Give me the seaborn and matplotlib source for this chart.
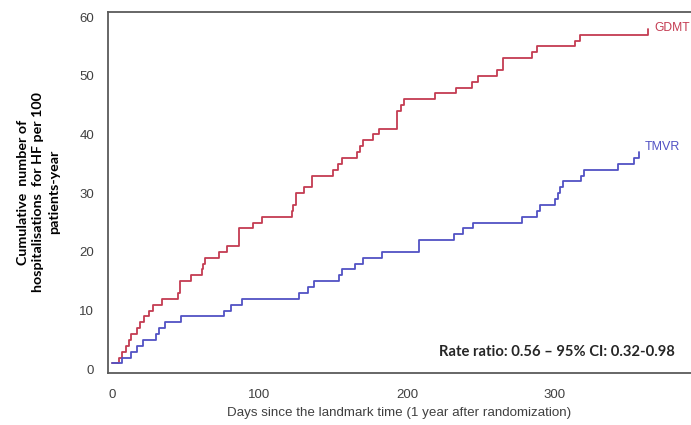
import pandas as pd
import seaborn as sns
import matplotlib
matplotlib.use("Agg")
import matplotlib.pyplot as plt


# Step data (day of event, cumulative value after it)
gdmt_days = [0, 5, 7, 10, 12, 13, 17, 19, 22, 25, 28, 34, 45, 46, 54, 61, 62, 63, 73, 78,
             86, 96, 102, 122, 123, 125, 130, 136, 150, 153, 156, 166, 168, 170, 177, 181,
             193, 196, 198, 219, 233, 244, 248, 261, 265, 285, 288, 314, 317, 363]
gdmt_vals = [1, 2, 3, 4, 5, 6, 7, 8, 9, 10, 11, 12, 13, 15, 16, 17, 18, 19, 20, 21,
             24, 25, 26, 27, 28, 30, 31, 33, 34, 35, 36, 37, 38, 39, 40, 41,
             44, 45, 46, 47, 48, 49, 50, 51, 53, 54, 55, 56, 57, 58]

tmvr_days = [0, 7, 13, 17, 21, 30, 32, 36, 47, 76, 81, 88, 127, 133, 137, 154, 156, 165,
             170, 183, 208, 232, 238, 245, 278, 288, 290, 300, 302, 304, 306, 318, 320,
             343, 354, 357]
tmvr_vals = [1, 2, 3, 4, 5, 6, 7, 8, 9, 10, 11, 12, 13, 14, 15, 16, 17, 18,
             19, 20, 22, 23, 24, 25, 26, 27, 28, 29, 30, 31, 32, 33, 34,
             35, 36, 37]

x_ticks = [0, 100, 200, 300]
y_ticks = [0, 10, 20, 30, 40, 50, 60]

red = "#c43c52"
blue = "#5252c4"

df = pd.concat([
    pd.DataFrame({"day": gdmt_days, "value": gdmt_vals, "arm": "GDMT"}),
    pd.DataFrame({"day": tmvr_days, "value": tmvr_vals, "arm": "TMVR"}),
])

sns.set_style("white")
plt.rcParams["font.family"] = ["Liberation Sans", "DejaVu Sans"]

fig = plt.figure(figsize=(6.91, 4.25), dpi=100)
ax = fig.add_axes([0.1563, 0.1231, 0.8437, 0.8494])

sns.lineplot(data=df, x="day", y="value", hue="arm", palette={"GDMT": red, "TMVR": blue},
             estimator=None, sort=False, drawstyle="steps-post", linewidth=1.3,
             legend=False, ax=ax)

ax.set_xlim(-2.5, 392.4)
ax.set_ylim(-0.58, 60.92)
ax.set_xticks(x_ticks)
ax.set_yticks(y_ticks)
ax.tick_params(axis="both", direction="out", length=5, width=1.2, color="#555555",
               labelsize=9.5, labelcolor="#404040", pad=5)
ax.tick_params(axis="x", pad=7)

for side in ["left", "bottom", "top"]:
    ax.spines[side].set_color("#5a5a5a")
    ax.spines[side].set_linewidth(1.3)
ax.spines["right"].set_visible(False)

ax.set_xlabel("Days since the landmark time (1 year after randomization)",
              fontsize=9.6, color="#404040", labelpad=4)
ax.set_ylabel("Cumulative  number of\nhospitalisations  for HF per 100\npatients-year",
              fontsize=10.3, fontweight="bold", family=["Lato", "DejaVu Sans"],
              color="black", multialignment="center", labelpad=14, linespacing=1.35)

ax.text(367.5, 58.1, "GDMT", color=red, fontsize=8.7, va="center", ha="left")
ax.text(361, 37.9, "TMVR", color=blue, fontsize=9, va="center", ha="left")
ax.text(381.6, 2.95, "Rate ratio: 0.56 \u2013 95% CI: 0.32-0.98", fontsize=10.6,
        fontweight="bold", family=["Lato", "DejaVu Sans"], ha="right", va="center")

fig.savefig("out.png", dpi=100)
